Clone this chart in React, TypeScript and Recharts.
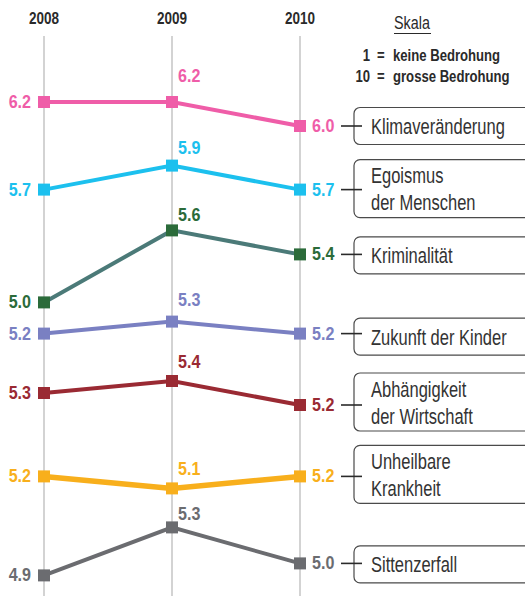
import React from 'react';
import { LineChart, Line, XAxis, YAxis, CartesianGrid, LabelList } from 'recharts';

// ---- data ----
const years = ['2008', '2009', '2010'];
const klima = [6.2, 6.2, 6.0];
const egoismus = [5.7, 5.9, 5.7];
const kriminalitaet = [5.0, 5.6, 5.4];
const zukunft = [5.2, 5.3, 5.2];
const wirtschaft = [5.3, 5.4, 5.2];
const krankheit = [5.2, 5.1, 5.2];
const sittenzerfall = [4.9, 5.3, 5.0];

const seriesNames: Record<string, string[]> = {
  klima: ['Klimaveränderung'],
  egoismus: ['Egoismus', 'der Menschen'],
  kriminalitaet: ['Kriminalität'],
  zukunft: ['Zukunft der Kinder'],
  wirtschaft: ['Abhängigkeit', 'der Wirtschaft'],
  krankheit: ['Unheilbare', 'Krankheit'],
  sittenzerfall: ['Sittenzerfall'],
};

const seriesValues: Record<string, number[]> = {
  klima, egoismus, kriminalitaet, zukunft, wirtschaft, krankheit, sittenzerfall,
};

const data = years.map((year, i) => {
  const row: Record<string, string | number> = { year };
  Object.keys(seriesValues).forEach((k) => { row[k] = seriesValues[k][i]; });
  return row;
});

// ---- layout / styles ----
const FONT = "'Liberation Sans', Arial, sans-serif";
const INK = '#2a2a2a';
const PX_PER_UNIT = 120;
const PLOT_H = 560;
const SPAN = PLOT_H / PX_PER_UNIT;

type Meta = {
  key: string; line: string; marker: string; label: string; width: number;
  axisTop: number; midDy: number; boxDy: number;
};
const metas: Meta[] = [
  { key: 'klima', line: '#EF5DA8', marker: '#EF5DA8', label: '#EF5DA8', width: 4, axisTop: 6.75, midDy: -20, boxDy: 0 },
  { key: 'egoismus', line: '#1CC0EE', marker: '#1CC0EE', label: '#1CC0EE', width: 4, axisTop: 6.98, midDy: -12, boxDy: -1 },
  { key: 'kriminalitaet', line: '#4B7A78', marker: '#2B6B3A', label: '#2B6B3A', width: 4, axisTop: 7.22, midDy: -9, boxDy: 1 },
  { key: 'zukunft', line: '#7A80C2', marker: '#7A80C2', label: '#7A80C2', width: 4, axisTop: 7.68, midDy: -16, boxDy: 3 },
  { key: 'wirtschaft', line: '#9A2A33', marker: '#9A2A33', label: '#9A2A33', width: 4, axisTop: 8.275, midDy: -13, boxDy: -3 },
  { key: 'krankheit', line: '#F8AF1C', marker: '#F8AF1C', label: '#F8AF1C', width: 5.5, axisTop: 8.87, midDy: -13, boxDy: -2 },
  { key: 'sittenzerfall', line: '#6B6C70', marker: '#6B6C70', label: '#6B6C70', width: 4, axisTop: 9.395, midDy: -7, boxDy: 1 },
];

const fmt = (v: any) => Number(v).toFixed(1);

// condensed text: horizontally scaled around its anchor point
const CText = ({ x, y, sx = 0.82, children, ...rest }: any) => (
  <text transform={`translate(${x} ${y}) scale(${sx} 1)`} x={0} y={0} fontFamily={FONT} {...rest}>{children}</text>
);

const YearTick = (props: any) => (
  <CText x={props.x} y={24} textAnchor="middle" fontWeight="bold" fontSize={16.5} fill={INK}>
    {props.payload.value}
  </CText>
);

const makeDot = (m: Meta) => (props: any) => {
  const { cx, cy, index } = props;
  if (cx == null || cy == null) return <g key={index} />;
  return <rect key={`${m.key}-dot-${index}`} x={cx - 6} y={cy - 6} width={12} height={12} fill={m.marker} />;
};

const makeLabel = (m: Meta) => (props: any) => {
  const { x, y, value, index } = props;
  const common = { fontWeight: 'bold', fontSize: 17.5, fill: m.label, sx: 0.92 };
  if (index === 0) {
    return <CText x={x - 13} y={y} dy={6} textAnchor="end" {...common}>{fmt(value)}</CText>;
  }
  if (index === 1) {
    return <CText x={x + 6} y={y + m.midDy} {...common}>{fmt(value)}</CText>;
  }
  const lines = seriesNames[m.key];
  const n = lines.length;
  const h = 37 + (n - 1) * 21;
  const c = y + m.boxDy;
  return (
    <g>
      <CText x={x + 12} y={y} dy={6} {...common}>{fmt(value)}</CText>
      <rect x={x + 54} y={c - h / 2} width={220} height={h} rx={6} ry={6} fill="#fff" stroke="#4a4a4a" strokeWidth={1.2} />
      <line x1={x + 41} x2={x + 62} y1={y} y2={y} stroke={INK} strokeWidth={1.6} />
      {lines.map((t, i) => (
        <CText key={i} x={x + 71} y={c + 8 + (i - (n - 1) / 2) * 27} fontSize={22} sx={0.75} fill="#333">{t}</CText>
      ))}
    </g>
  );
};

export default function App() {
  return (
    <div style={{ position: 'absolute', left: 0, top: 0, width: 525, height: 596, background: '#fff' }}>
      <LineChart width={525} height={596} data={data} margin={{ top: 6, right: 225, bottom: 0, left: 44 }}>
        <CartesianGrid horizontal={false} vertical stroke="#c4c4c4" strokeWidth={1.5} yAxisId="klima" />
        <XAxis dataKey="year" orientation="top" height={30} axisLine={false} tickLine={false} tick={<YearTick />} interval={0} padding={{ left: 0, right: 0 }} />
        {metas.map((m) => (
          <YAxis key={m.key} yAxisId={m.key} hide type="number" domain={[m.axisTop - SPAN, m.axisTop]} />
        ))}
        {metas.map((m) => (
          <Line key={m.key} yAxisId={m.key} dataKey={m.key} type="linear" stroke={m.line} strokeWidth={m.width}
            dot={makeDot(m)} activeDot={false} isAnimationActive={false}>
            <LabelList dataKey={m.key} content={makeLabel(m)} />
          </Line>
        ))}
      </LineChart>
      <svg width={525} height={100} style={{ position: 'absolute', left: 0, top: 0, pointerEvents: 'none' }}>
        <CText x={394} y={29} fontSize={17.5} fill={INK}>Skala</CText>
        <line x1={394} x2={431} y1={33.5} y2={33.5} stroke={INK} strokeWidth={1} />
        <g>
          <CText x={370} y={61} textAnchor="end" fontSize={16} fontWeight="bold" fill={INK}>1</CText>
          <CText x={377} y={61} fontSize={16} fontWeight="bold" fill={INK}>=</CText>
          <CText x={393} y={61} fontSize={16} fontWeight="bold" fill={INK}>keine Bedrohung</CText>
          <CText x={370} y={82} textAnchor="end" fontSize={16} fontWeight="bold" fill={INK}>10</CText>
          <CText x={377} y={82} fontSize={16} fontWeight="bold" fill={INK}>=</CText>
          <CText x={393} y={82} fontSize={16} fontWeight="bold" fill={INK}>grosse Bedrohung</CText>
        </g>
      </svg>
    </div>
  );
}
